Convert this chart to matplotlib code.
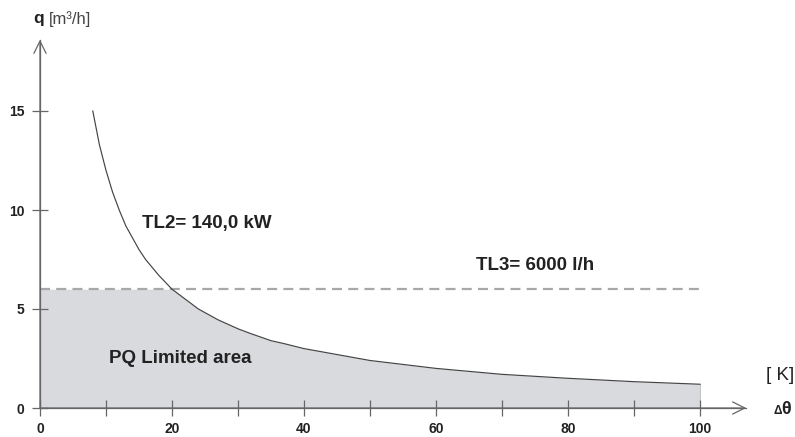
import numpy as np
import matplotlib.pyplot as plt

plt.rcParams['font.family'] = ['Liberation Sans', 'DejaVu Sans']

# flow limit curve for TL2 = 140 kW
dtheta = [8, 9, 10, 11, 12, 13, 14, 15, 16, 17, 18, 20, 22, 24, 27, 30,
          32, 35, 37, 40, 45, 50, 60, 70, 80, 90, 100]
q_tl2 = [15.0, 13.3, 12.0, 10.9, 10.0, 9.2, 8.6, 8.0, 7.5, 7.1, 6.7, 6.0,
         5.5, 5.0, 4.45, 4.0, 3.75, 3.4, 3.25, 3.0, 2.7, 2.4, 2.0, 1.7,
         1.5, 1.33, 1.2]
tl3_flow = 6.0  # 6000 l/h
x_ticks = [0, 10, 20, 30, 40, 50, 60, 70, 80, 90, 100]
x_labels = ['0', '', '20', '', '40', '', '60', '', '80', '', '100']
y_ticks = [0, 5, 10, 15]

fig = plt.figure(figsize=(7.95, 4.37), dpi=100)
W, H = 795, 437
x0, y0 = 40, 29           # axis origin in pixels (from bottom-left)
px_x, px_y = 6.6, 19.8    # pixels per unit
xmax, ymax = 107, 18.6
ax = fig.add_axes([x0 / W, y0 / H, xmax * px_x / W, ymax * px_y / H])
ax.set_xlim(0, xmax)
ax.set_ylim(0, ymax)

axis_col = '#666666'
text_col = '#222222'

# PQ limited area: below both the power curve and the flow limit
fill_x = np.concatenate([[0], dtheta])
fill_y = np.minimum(np.concatenate([[tl3_flow], q_tl2]), tl3_flow)
ax.fill_between(fill_x, 0, fill_y, color='#d9dadd', lw=0, zorder=1)
ax.plot([100, 100], [0, q_tl2[-1]], color='#bbbbbb', lw=0.6, zorder=1)

ax.plot(dtheta, q_tl2, color='#444444', lw=0.85, zorder=3)
ax.plot([0, 100], [tl3_flow, tl3_flow], color='#a8a8a8', lw=1.6,
        dashes=(4.5, 2.8), zorder=2)

for s in ['top', 'right']:
    ax.spines[s].set_visible(False)
for s in ['left', 'bottom']:
    ax.spines[s].set_color(axis_col)
    ax.spines[s].set_linewidth(0.9)

ax.set_xticks(x_ticks)
ax.set_xticklabels(x_labels)
ax.set_yticks(y_ticks)
ax.tick_params(direction='inout', length=12, width=0.9, color=axis_col,
               labelsize=10, labelcolor=text_col)
ax.tick_params(axis='x', pad=4)
ax.tick_params(axis='y', pad=5)
for lab in ax.get_xticklabels() + ax.get_yticklabels():
    lab.set_fontweight('bold')

# open arrow heads at the axis ends
arrow = dict(arrowstyle='->', color=axis_col, lw=0.9,
             mutation_scale=22, shrinkA=0, shrinkB=0)
ax.annotate('', xy=(0, ymax), xytext=(0, 0), arrowprops=arrow,
            annotation_clip=False)
ax.annotate('', xy=(xmax, 0), xytext=(0, 0), arrowprops=arrow,
            annotation_clip=False)

ax.text(15.5, 9.1, 'TL2= 140,0 kW', fontsize=13.5, fontweight='bold',
        color=text_col)
ax.text(66.0, 6.95, 'TL3= 6000 l/h', fontsize=13.5, fontweight='bold',
        color=text_col)
ax.text(10.5, 2.5, 'PQ Limited area', fontsize=13.5, fontweight='bold',
        color=text_col, va='center')

fig.text(33 / W, 1 - 19 / H, 'q', fontsize=12.5, fontweight='bold',
         color=text_col, va='center')
fig.text(49 / W, 1 - 19 / H, '[m³/h]', fontsize=12, color='#444444',
         va='center')
fig.text(766 / W, 1 - 376 / H, '[ K]', fontsize=13.5, color=text_col,
         va='center')
fig.text(773 / W, 1 - 411 / H, 'Δ', fontsize=8.5, fontweight='bold',
         color=text_col, va='center')
fig.text(781 / W, 1 - 409 / H, 'θ', fontsize=13, fontweight='bold',
         color=text_col, va='center')

fig.savefig('out.png', dpi=100)
